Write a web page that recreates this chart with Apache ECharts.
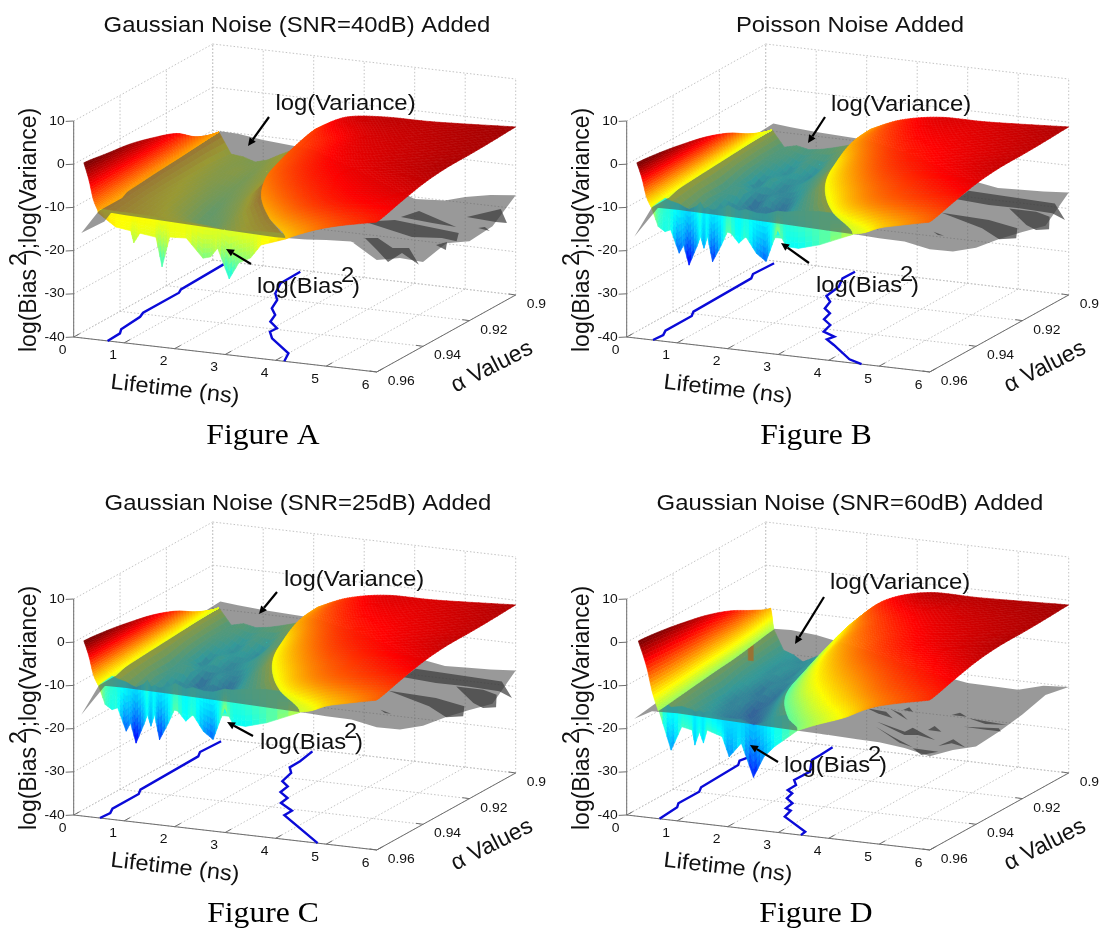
<!DOCTYPE html>
<html>
<head>
<meta charset="utf-8">
<style>html,body{margin:0;padding:0;background:#fff}#c{width:1100px;height:931px;filter:blur(0.4px)}</style>
<script src="https://cdn.jsdelivr.net/npm/echarts@6/dist/echarts.min.js"></script>
</head>
<body>
<div id="c"></div>
<script>
// ---------- tick labels and text ----------
const lifetimeTicks = [0,1,2,3,4,5,6];
const alphaTicks = [0.9,0.92,0.94,0.96];
const alphaTickLabels = ['0.9','0.92','0.94','0.96'];
const valueTicks = [-40,-30,-20,-10,0,10];
const panelTitles = ['Gaussian Noise (SNR=40dB) Added','Poisson Noise Added','Gaussian Noise (SNR=25dB) Added','Gaussian Noise (SNR=60dB) Added'];
const panelCaptions = ['Figure A','Figure B','Figure C','Figure D'];
const surfaceAlphas = [0.96,0.95,0.94,0.93,0.92,0.91,0.90];

// ---------- bias surface, left wing (lifetime, value) per alpha row ----------
const leftWingX_ABC = [[.2,.3,.39,.48],[.2,.28,.35,.42],[.2,.26,.31,.36],[.2,.24,.27,.3],[.2,.21,.23,.24],[.15,.16,.17,.18],[.125,.125,.125,.125]];
const leftWingZ_A = [[.6,-3.2,-7.7,-10.1],[-.2,-3.6,-7.6,-10.1],[-1,-4.2,-7.8,-10.1],[-2.5,-5.2,-8.2,-10.1],[-4.5,-6.5,-8.8,-10.2],[-8.3,-9,-9.7,-10.2],[-10.2,-10.2,-10.2,-10.2]];
const leftWingZ_BC = [[.6,-2.8,-7,-9.2],[0,-3.2,-7,-9.2],[-1,-3.8,-7.1,-9.2],[-2.3,-4.8,-7.5,-9.3],[-4.4,-6,-8,-9.4],[-7.6,-8.2,-9,-9.5],[-9.7,-9.7,-9.7,-9.7]];
const leftWingX_D = [[.23,.39,.51,.625],[.23,.36,.47,.55],[.23,.33,.41,.47],[.23,.29,.35,.39],[.23,.27,.3,.32],[.2,.21,.225,.24],[.1,.125,.14,.16]];
const leftWingZ_D = [[.6,-5,-11,-15],[0,-5.5,-11,-15],[-1,-6,-11,-15],[-2.3,-6.8,-11.2,-15],[-4.3,-8,-11.5,-15],[-7.2,-9.5,-12,-14.8],[-9.8,-11.5,-13,-14.6]];

// ---------- bias surface, right wing ----------
const rightWingX_A = [[4.2,4.47,4.83,5.28,6],[3.42,3.81,4.32,4.97,6],[2.8,3.28,3.92,4.72,6],[2.44,2.97,3.69,4.58,6],[2.27,2.83,3.58,4.51,6],[2.15,2.73,3.5,4.46,6],[2.04,2.63,3.4,4.4,6]];
const rightWingZ_A = [[-11.6,-10.2,-8.6,-7.1,-5.3],[-10.8,-8.5,-6.5,-5,-3.8],[-9.7,-7.5,-5.5,-4,-2.4],[-8.6,-6.6,-4.6,-3.2,-1.7],[-7.8,-5.9,-3.9,-2.8,-1.6],[-7.1,-5.2,-3.2,-2.4,-1.4],[-6.9,-3.4,-2.3,-2.1,-1.1]];
const rightWingX_BC = [[4.48,4.71,5.01,5.39,6],[3.64,3.99,4.47,5.06,6],[3.03,3.48,4.07,4.81,6],[2.58,3.09,3.78,4.63,6],[2.3,2.86,3.6,4.52,6],[2.15,2.73,3.5,4.46,6],[2.08,2.67,3.45,4.43,6]];
const rightWingZ_BC = [[-10.1,-9.5,-8,-6.9,-5.3],[-9.4,-7.6,-6,-5,-3.8],[-9.4,-7.2,-5.3,-4,-2.4],[-9.1,-6.7,-4.5,-3.2,-1.7],[-8.6,-5.9,-3.8,-2.8,-1.6],[-7.1,-4.8,-3,-2.4,-1.4],[-6.9,-4,-2.3,-2.1,-1.1]];
const rightWingX_D = [[3.38,3.77,4.3,4.95,6],[2.75,3.24,3.89,4.7,6],[2.21,2.78,3.54,4.48,6],[1.83,2.46,3.29,4.33,6],[1.65,2.3,3.17,4.26,6],[1.68,2.33,3.19,4.27,6],[1.71,2.35,3.21,4.28,6]];
const rightWingZ_D = [[-15.9,-14,-11.7,-8.2,-5.3],[-16.9,-13.5,-10.2,-6.8,-3.8],[-17.1,-12.5,-8.7,-5.5,-2.4],[-17.5,-11.5,-7.2,-4.2,-1.7],[-16.9,-10,-6,-3.4,-1.6],[-13.6,-7.8,-4.2,-2.6,-1.4],[-11.1,-5,-2,-1.8,-1.1]];

// ---------- bias surface, noisy valley between the wings ----------
const valleyLeft_ABC = [.48,.42,.36,.3,.24,.18,.125];
const valleyRight_A = [4.2,3.42,2.8,2.44,2.27,2.15,2.04];
const valleyZ_A = [[-10.1,-11.5,-12,-12.5,-13,-13.5,-13,-12.5,-11.6],[-10.1,-12,-13,-14,-15.5,-16.5,-15,-13,-11],[-10.1,-12.5,-13.5,-15.5,-18,-18,-16,-13.5,-10],[-10.1,-13,-14,-16,-18.5,-17,-15.5,-13,-9.5],[-10.2,-13.5,-15,-16.5,-17,-16,-14.5,-12.5,-9],[-10.2,-14,-15.5,-15,-16.5,-15,-14,-12,-8.5],[-10.2,-15,-15.3,-16.2,-15.4,-13.9,-12.5,-11,-8]];
const valleyRight_BC = [4.48,3.64,3.03,2.58,2.3,2.15,2.08];
const valleyZ_BC = [[-9.2,-12,-13,-13,-14,-13,-13,-12,-10.2],[-9.2,-13.5,-14.5,-15.5,-15,-15.5,-14.5,-13,-10],[-9.3,-13,-17,-15,-19,-17,-14.5,-13,-9.8],[-9.3,-14,-13.5,-18,-15,-17.5,-15,-12.5,-9.5],[-9.4,-13,-16.5,-14,-16.5,-15,-14,-12,-9],[-9.5,-13,-14,-16,-14,-16,-13,-12,-8.5],[-9.7,-13.4,-12.7,-13.3,-12.9,-12.2,-11.4,-10.4,-8]];
const valleyLeft_D = [.625,.55,.47,.39,.32,.24,.16];
const valleyRight_D = [3.38,2.75,2.21,1.83,1.65,1.68,1.71];
const valleyZ_D = [[-15,-17,-18,-18,-18.5,-18,-18,-17,-15.9],[-15,-18,-20,-21,-23,-22,-21,-19,-16.9],[-15,-19,-21,-23,-22,-25,-22,-20,-17.1],[-15,-20,-22,-21,-25,-23,-22,-20,-17.5],[-15,-19,-20,-23,-21,-23,-21,-19,-16.9],[-14.8,-19,-21,-20,-22,-20,-19,-17,-13.6],[-14.6,-19.2,-20,-21.4,-20.2,-19.1,-17.4,-14.8,-11]];
// isolated peak seen through the sheet in figure D: lifetime, alpha, low value, high value
const valleyPeak_D = [1.08,.93,-11.7,-7.7];

// ---------- bias surface, spiky front edge ----------
const fringeX_A = [.48,.83,1.13,1.19,1.31,1.63,1.75,1.9,2.23,2.56,2.71,2.85,3.08,3.27,3.5,3.71,4.21];
const fringeZ_A = [-10.6,-13.4,-13.9,-16.6,-14.2,-14.7,-21.4,-14.3,-14.1,-18.3,-17.8,-15.6,-22.4,-18.4,-17,-13.7,-11.6];
const fringeTop_A = [-13.2,-13.4,-13.4,-13.5,-13.5,-13.6,-14,-14,-14,-14.2,-14.4,-14.6,-14.8,-14.6,-14.4,-14.2,-14];
const fringeX_BC = [.485,.625,.76,.87,1.04,1.125,1.235,1.39,1.46,1.53,1.6,1.7,1.875,2.01,2.22,2.36,2.57,2.76,2.88,2.99,3.16,3.4,3.82,4.48];
const fringeZ_BC = [-9.2,-13.6,-14.6,-14,-19.2,-17.2,-21.7,-17.2,-14.8,-17.4,-14.6,-20.3,-16.2,-12.5,-15.3,-13.6,-17.2,-18.8,-14.8,-11.2,-14.8,-14.9,-13.5,-10.2];
const fringeTop_BC = [-12,-13,-14,-14.5,-15,-15.5,-16,-15,-14,-15.5,-15,-15.5,-15,-14,-15,-14.5,-15,-15,-14.5,-14,-14,-13.5,-13,-13];
const fringeX_D = [.64,.88,1.09,1.3,1.35,1.44,1.52,1.59,1.89,2.03,2.27,2.51,2.72,2.93,3.38];
const fringeZ_D = [-15,-23.8,-18.1,-18.6,-22,-18.8,-21.3,-18.2,-19.3,-23.8,-20.3,-27.9,-22.8,-20.2,-15.9];
const fringeTop_D = [-18,-20,-19.5,-20,-20.5,-20,-20.5,-20,-21,-21,-21,-22,-21,-19.5,-18];
const fringeAlpha = {A:.95, BC:.94, D:.943};

// ---------- variance surface (grey) ----------
const sheetX = [.15,.5,1,2,3,4,4.6,5,5.5,6];
const sheetZ_A = [[-15.7,-10.1,-10.4,-10.8,-11.2,-11.5,-11.2,-10.8,-10.5,-14.1],[-16,-10.1,-10.4,-10.8,-11.2,-13,-13,-14,-15.5,-16.6],[-12,-10.1,-10.5,-10.9,-11.3,-14,-17.5,-15,-20,-20.5],[-10.5,-10.1,-10.5,-11,-11.8,-16,-15,-19.5,-16,-19.1],[-10.3,-10.1,-10.6,-11,-12.5,-18,-20,-17,-21.5,-21.6],[-10.1,-10.1,-10.7,-11.2,-14,-19,-18,-21,-17.5,-21.1],[-10,-10.1,-10.9,-11.8,-16,-20.5,-20,-18.7,-17.5,-16.9]];
const sheetZ_BC = [[-16.6,-9.3,-9.2,-9.4,-9.7,-10,-10.2,-10.4,-10.5,-11.6],[-13,-9.2,-9.2,-9.4,-9.7,-11,-11.5,-12,-12.5,-15.1],[-11,-9.1,-9.2,-9.4,-9.8,-12,-12,-12.5,-13,-17.2],[-9.5,-9,-9.2,-9.4,-10,-13.5,-18,-18,-18.5,-18.1],[-9,-9,-9.1,-9.4,-10.5,-15,-14.5,-15,-15.5,-19.5],[-8.6,-8.8,-9,-9.4,-11,-16,-19.5,-20,-20.5,-21],[-8.2,-8.6,-9,-9.5,-12,-16,-17.1,-16.9,-16.7,-16.3]];
const sheetZ_D = [[-17.5,-15.3,-15.1,-15.5,-15.8,-16.1,-16.3,-16.4,-17.1,-18.3],[-16.6,-15.2,-15.1,-15.4,-15.8,-16.5,-17,-17.5,-18.5,-19.8],[-15,-15,-15,-15.3,-16,-17,-18,-19,-16.5,-22],[-14.7,-14.8,-15,-15.2,-16.5,-18,-21,-18,-20.5,-21.5],[-14.5,-14.6,-14.9,-15.5,-17.5,-19,-19,-21,-19,-20.5],[-14.5,-14.4,-14.8,-16,-18.5,-20.5,-21,-20.5,-20,-19],[-14.5,-14.3,-14.8,-17,-20,-21.9,-22,-22.1,-20.5,-20.1]];

// dark folds of the grey sheet: [lifetime, alpha] outlines at value foldValue
const foldValue = -20;
const folds_A = [
 [[3.92,.9198],[4.36,.9164],[5.79,.92],[6,.9255],[5.66,.9245],[5.14,.926]],
 [[4.37,.914],[4.49,.9088],[5.57,.9163],[5.06,.9155]],
 [[5.45,.9091],[5.77,.9014],[6.28,.9099],[6.07,.9101]],
 [[4.4,.9302],[4.61,.9292],[5.15,.9346],[5.42,.9334],[6.08,.9435],[5.45,.9371],[5.49,.944],[4.95,.937]],
 [[5.77,.9294],[6.08,.9319],[5.86,.9266]],
 [[5.96,.9153],[6.04,.9142],[6.24,.9164]]
];
const folds_BC = [
 [[3.89,.9023],[3.83,.8959],[5.62,.8977],[6.28,.9077],[5.87,.9043],[5.18,.9035],[4.59,.9037]],
 [[5.02,.9043],[5.56,.9044],[5.93,.9067],[6.29,.9148],[6.1,.9163],[5.79,.9137]],
 [[4.04,.9121],[5.03,.9133],[5.74,.9165],[6.02,.9231],[5.77,.925],[5.16,.9191]],
 [[4.47,.925],[4.76,.9268],[4.64,.9268]]
];
const folds_D = [
 [[3.34,.929],[3.75,.9298],[4.05,.9335],[3.66,.9315]],
 [[3.76,.9279],[4.04,.9297],[4.35,.9335],[4.07,.931]],
 [[3.98,.9275],[4,.9252],[4.19,.9278]],
 [[3.9,.9369],[4.65,.9413],[4.66,.9381],[5.39,.9444],[4.96,.9424],[4.74,.9434]],
 [[4.98,.9385],[4.97,.9354],[5.25,.9386]],
 [[4.03,.9403],[4.6,.9454],[5.24,.9508],[4.89,.9488]],
 [[5.27,.9514],[5.79,.9517],[5.61,.9551]],
 [[5.62,.948],[5.67,.9426],[6.1,.9469],[5.76,.9453]],
 [[4.92,.927],[4.99,.9249],[5.22,.927]],
 [[5.3,.9279],[6.13,.9293],[5.74,.9303]],
 [[5.47,.9337],[6.09,.9321],[6.22,.9341],[5.85,.934]]
];

// ---------- blue floor curves: lifetime at each alpha ----------
const curve1Alpha_A = [.96,.9542,.9515,.942,.9392,.9236,.9213,.9018];
const curve1Life_A = [.67,.65,.55,.49,.42,.416,.348,.306];
const curve2Alpha_A = [.96,.9545,.9461,.942,.9392,.9355,.9308,.9268,.921,.9168,.91,.901];
const curve2Life_A = [4.17,4,3.29,3.06,3.07,2.77,2.65,2.4,2.24,2.01,1.8,1.78];
const curve1Alpha_BC = [.96,.956,.953,.9416,.9387,.9129,.91,.9015];
const curve1Life_BC = [.52,.54,.446,.444,.344,.306,.207,.235];
const curve2Alpha_B = [.96,.9578,.9497,.9466,.9443,.9419,.9371,.9339,.9296,.9268,.9221,.9187,.9118,.9061,.9009];
const curve2Life_B = [4.65,4.31,3.63,3.35,3.39,3.07,2.98,2.71,2.63,2.4,2.29,2.06,1.99,1.8,1.81];
const curve2Alpha_C = [.96,.9445,.941,.9368,.9331,.9298,.9256,.9227,.9167,.9132,.9085,.9012];
const curve2Life_C = [4.83,3.46,3.45,3.04,3,2.71,2.66,2.42,2.32,2.13,2.12,2.03];
const curve1Alpha_D = [.96,.9513,.9486,.9396,.9366,.9195,.9166,.9132,.9018];
const curve1Life_D = [.65,.6,.5,.5,.4,.35,.244,.3,.2];
const curve2Alpha_D = [.96,.9575,.9493,.945,.9438,.9401,.9373,.9337,.9319,.9281,.925,.9184,.9108,.9069,.901];
const curve2Life_D = [3.45,3.42,2.64,2.56,2.41,2.37,2.13,2.07,1.9,1.89,1.71,1.72,1.41,1.4,1.37];

// ---------- panels ----------
const sets = {
  A:{lX:leftWingX_ABC,lZ:leftWingZ_A,rX:rightWingX_A,rZ:rightWingZ_A,vL:valleyLeft_ABC,vR:valleyRight_A,vZ:valleyZ_A,fX:fringeX_A,fZ:fringeZ_A,fT:fringeTop_A,fA:fringeAlpha.A,sZ:sheetZ_A,folds:folds_A,c:[-36,0]},
  BC:{lX:leftWingX_ABC,lZ:leftWingZ_BC,rX:rightWingX_BC,rZ:rightWingZ_BC,vL:valleyLeft_ABC,vR:valleyRight_BC,vZ:valleyZ_BC,fX:fringeX_BC,fZ:fringeZ_BC,fT:fringeTop_BC,fA:fringeAlpha.BC,sZ:sheetZ_BC,folds:folds_BC,c:[-24,0]},
  D:{lX:leftWingX_D,lZ:leftWingZ_D,rX:rightWingX_D,rZ:rightWingZ_D,vL:valleyLeft_D,vR:valleyRight_D,vZ:valleyZ_D,fX:fringeX_D,fZ:fringeZ_D,fT:fringeTop_D,fA:fringeAlpha.D,sZ:sheetZ_D,folds:folds_D,peak:valleyPeak_D,c:[-32,0]}
};
const panels = [
 {set:'A',ox:0,oy:0,tx:297,c1:[curve1Life_A,curve1Alpha_A],c2:[curve2Life_A,curve2Alpha_A],
  v:[275.4,104],b:[257,287],av:[269,117,248,146],ab:[251,264,226,249]},
 {set:'BC',ox:553,oy:0,tx:297,c1:[curve1Life_BC,curve1Alpha_BC],c2:[curve2Life_B,curve2Alpha_B],
  v:[278,105],b:[263,286],av:[272,117,255,143],ab:[256,263,228,243]},
 {set:'BC',ox:0,oy:478,tx:298,c1:[curve1Life_BC,curve1Alpha_BC],c2:[curve2Life_C,curve2Alpha_C],
  v:[284,102],b:[260,265],av:[277,114,259,136],ab:[253,258,227,244]},
 {set:'D',ox:553,oy:478,tx:297,c1:[curve1Life_D,curve1Alpha_D],c2:[curve2Life_D,curve2Alpha_D],
  v:[277,105],b:[231,288],av:[271,119,242,166],ab:[225,284,197,267]}
];

// ---------- view projection (oblique view used by every panel) ----------
const VIEW = {x0:73.7,y0:337,ux:50.5,uy:5.83,fx:139,fy:-77,zs:4.32};
function view(x,a,z){
  const f=(0.96-a)/0.06;
  return [VIEW.x0+VIEW.ux*x+VIEW.fx*f, VIEW.y0+VIEW.uy*x+VIEW.fy*f-(z+40)*VIEW.zs];
}
const JET=[[0,0,0,.5],[.125,0,0,1],[.375,0,1,1],[.625,1,1,0],[.875,1,0,0],[1,.5,0,0]];
function jet(z,c){
  let t=(z-c[0])/(c[1]-c[0]); t=Math.max(0,Math.min(1,t));
  for(let i=0;i<JET.length-1;i++){
    const a=JET[i],b=JET[i+1];
    if(t<=b[0]){const u=(t-a[0])/(b[0]-a[0]);
      return 'rgb('+[1,2,3].map(k=>Math.round(255*(a[k]+(b[k]-a[k])*u))).join(',')+')';}
  }
  return 'rgb(128,0,0)';
}
function cr(arr,t){
  const n=arr.length;const i=Math.min(Math.floor(t),n-2);const u=t-i;
  const p0=arr[Math.max(i-1,0)],p1=arr[i],p2=arr[i+1],p3=arr[Math.min(i+2,n-1)];
  return .5*(2*p1+(-p0+p2)*u+(2*p0-5*p1+4*p2-p3)*u*u+(-p0+3*p1-3*p2+p3)*u*u*u);
}
function lin(arr,t){const i=Math.min(Math.floor(t),arr.length-2);const u=t-i;return arr[i]+(arr[i+1]-arr[i])*u;}

const FONT='"Liberation Sans",Arial,sans-serif';
function renderPanel(pIndex,api){
  const p=panels[pIndex], d=sets[p.set];
  const P=(x,a,z)=>api.coord(view(x,a,z));
  const V=(u,v)=>api.coord([u,v]);
  const ch=[];
  const seg=(a,b,stroke,w,dash)=>ch.push({type:'line',silent:true,shape:{x1:a[0],y1:a[1],x2:b[0],y2:b[1]},style:{stroke,lineWidth:w,lineDash:dash||null}});
  const text=(s,u,v,o)=>{const q=V(u,v);ch.push({type:'text',silent:true,x:q[0],y:q[1],rotation:o.rot||0,scaleX:o.sx||1,
     style:{text:s,fontFamily:o.ff||FONT,fontSize:o.size,fill:o.fill||'#111',align:o.align||'left',verticalAlign:'middle'}});};

  // dotted walls and floor
  const G='#c4c4c4',D=[1.5,2];
  valueTicks.forEach(z=>{seg(P(0,.9,z),P(6,.9,z),G,1,D);seg(P(0,.96,z),P(0,.9,z),G,1,D);});
  lifetimeTicks.forEach(x=>{seg(P(x,.9,-40),P(x,.9,10),G,1,D);seg(P(x,.96,-40),P(x,.9,-40),G,1,D);});
  alphaTicks.forEach(a=>{seg(P(0,a,-40),P(0,a,10),G,1,D);seg(P(0,a,-40),P(6,a,-40),G,1,D);});
  // solid axes
  const S='#6e6e6e';
  seg(P(0,.96,-40),P(0,.96,10),S,1);
  seg(P(0,.96,-40),P(6,.96,-40),S,1);
  seg(P(6,.96,-40),P(6,.9,-40),S,1);
  valueTicks.forEach(z=>{const q=view(0,.96,z);seg(V(q[0],q[1]),V(q[0]-8,q[1]+.4),S,1);
    text(String(z),q[0]-9,q[1],{size:13,align:'right',sx:1.07});});
  lifetimeTicks.forEach(x=>{const q=view(x,.96,-40);seg(V(q[0],q[1]),V(q[0]+6,q[1]-3.3),S,1);
    text(String(x),q[0]-11,q[1]+13,{size:13,align:'center',sx:1.07});});
  alphaTicks.forEach((a,i)=>{const q=view(6,a,-40);seg(V(q[0],q[1]),V(q[0]-7,q[1]-1),S,1);
    text(alphaTickLabels[i],q[0]+11,q[1]+9.5,{size:13,sx:1.07});});

  // floor curves
  [p.c1,p.c2].forEach(c=>{
    ch.push({type:'polyline',silent:true,shape:{points:c[0].map((x,i)=>P(x,c[1][i],-40))},style:{fill:null,stroke:'#0a0ad8',lineWidth:2.4}});
  });

  const quad=(pts,z)=>{const col=jet(z,d.c);ch.push({type:'polygon',silent:true,shape:{points:pts},style:{fill:col,stroke:col,lineWidth:.6}});};
  function mesh(evalX,evalZ,nr,nc,sr,sc){
    const R=(nr-1)*sr,C=(nc-1)*sc,node=[],zz=[];
    for(let r=0;r<=R;r++){node[r]=[];zz[r]=[];
      for(let c=0;c<=C;c++){const tr=r/sr,tc=c/sc;const x=evalX(tr,tc),z=evalZ(tr,tc);
        zz[r][c]=z;node[r][c]=P(x,surfaceAlphas[0]-0.01*tr,z);}}
    for(let r=R-1;r>=0;r--)for(let c=0;c<C;c++){
      quad([node[r][c],node[r][c+1],node[r+1][c+1],node[r+1][c]],(zz[r][c]+zz[r][c+1]+zz[r+1][c+1]+zz[r+1][c])/4);
    }
  }
  const smoothEval=M=>(tr,tc)=>cr(M.map(row=>cr(row,tc)),tr);
  const bilinEval=M=>(tr,tc)=>lin(M.map(row=>lin(row,tc)),tr);

  // valley (seen through the grey sheet)
  const vX=(tr,tc)=>{const l=lin(d.vL,tr),rr=lin(d.vR,tr);return l+(rr-l)*tc/8;};
  mesh(vX,bilinEval(d.vZ),7,9,4,4);
  if(d.peak){const k=d.peak;quad([P(k[0]-.05,k[1],k[2]),P(k[0]+.05,k[1],k[2]),P(k[0]+.05,k[1],k[3]),P(k[0]-.05,k[1],k[3])],-9);}

  // spiky front of the bias surface: spikes drop straight down the picture
  const subV=7, subH=3, drift=VIEW.fx/VIEW.ux;
  const fAt=(tc,u)=>{const a=d.fA+(0.96-d.fA)*u,f=(0.96-a)/0.06,top=lin(d.fT,tc),bot=lin(d.fZ,tc);
    return P(lin(d.fX,tc)-drift*f,a,top+(bot-top)*u);};
  for(let j=0;j<d.fX.length-1;j++)for(let h=0;h<subH;h++)for(let s=0;s<subV;s++){
    const t0=j+h/subH,t1=j+(h+1)/subH,tm=(t0+t1)/2,u0=s/subV,u1=(s+1)/subV,um=(u0+u1)/2;
    const top=lin(d.fT,tm),bot=lin(d.fZ,tm);
    quad([fAt(t0,u0),fAt(t1,u0),fAt(t1,u1),fAt(t0,u1)],top+(bot-top)*Math.pow(um,1.4));
  }

  // grey variance sheet: one fill so that facets do not double blend
  let lit='';
  const tri=(a,b,c)=>{
    const area=(b[0]-a[0])*(c[1]-a[1])-(b[1]-a[1])*(c[0]-a[0]);
    const f=q=>q[0].toFixed(1)+' '+q[1].toFixed(1);
    lit+= area<0 ? 'M'+f(a)+'L'+f(b)+'L'+f(c)+'Z' : 'M'+f(a)+'L'+f(c)+'L'+f(b)+'Z';
  };
  for(let r=0;r<d.sZ.length-1;r++)for(let c=0;c<sheetX.length-1;c++){
    const n=(rr,cc)=>P(sheetX[cc],surfaceAlphas[rr],d.sZ[rr][cc]);
    tri(n(r,c),n(r,c+1),n(r+1,c));
    tri(n(r+1,c+1),n(r+1,c),n(r,c+1));
  }
  ch.push({type:'path',silent:true,shape:{pathData:lit},style:{fill:'rgba(85,85,85,0.6)',stroke:null}});
  d.folds.forEach(f=>ch.push({type:'polygon',silent:true,shape:{points:f.map(q=>P(q[0],q[1],foldValue))},style:{fill:'rgba(55,55,55,0.7)'}}));

  // wings on top
  mesh(smoothEval(d.lX),smoothEval(d.lZ),7,4,7,8);
  mesh(smoothEval(d.rX),smoothEval(d.rZ),7,5,9,14);

  // arrows
  const arrow=q=>{
    const a=V(q[0],q[1]),b=V(q[2],q[3]);
    const dx=b[0]-a[0],dy=b[1]-a[1],L=Math.hypot(dx,dy),ux=dx/L,uy=dy/L;
    const base=[b[0]-ux*8,b[1]-uy*8];
    seg(a,base,'#000',2.2);
    ch.push({type:'polygon',silent:true,shape:{points:[b,[base[0]-uy*3.8,base[1]+ux*3.8],[base[0]+uy*3.8,base[1]-ux*3.8]]},style:{fill:'#000'}});
  };
  arrow(p.av);arrow(p.ab);

  // texts
  text(panelTitles[pIndex],p.tx,26,{size:22,align:'center',sx:1.085});
  text(panelCaptions[pIndex],263,436,{size:29,align:'center',sx:1.09,ff:'"Liberation Serif","Times New Roman",serif',fill:'#000'});
  text('log(Variance)',p.v[0],p.v[1],{size:22,sx:1.085});
  text('log(Bias',p.b[0],p.b[1],{size:22,sx:1.085});
  text('2',p.b[0]+84,p.b[1]-11,{size:22,sx:1.085});
  text(')',p.b[0]+95,p.b[1],{size:22,sx:1.085});
  // rotated axis titles
  text('log(Bias',30,352,{size:23,rot:Math.PI/2});
  text('2',20,266,{size:23,rot:Math.PI/2});
  text(');log(Variance)',30,257,{size:23,rot:Math.PI/2});
  text('Lifetime (ns)',175,390,{size:22,align:'center',sx:1.07,rot:-0.115});
  text('\u03b1 Values',492,367,{size:23,align:'center',rot:0.47});
  return {type:'group',children:ch};
}

const chart=echarts.init(document.getElementById('c'),null,{renderer:'canvas'});
const W=547,H=453;
chart.setOption({
  animation:false,backgroundColor:'#fff',
  grid:panels.map(p=>({left:p.ox,top:p.oy,width:W,height:H,containLabel:false})),
  xAxis:panels.map((p,i)=>({type:'value',gridIndex:i,min:0,max:W,show:false})),
  yAxis:panels.map((p,i)=>({type:'value',gridIndex:i,min:0,max:H,inverse:true,show:false})),
  series:panels.map((p,i)=>({type:'custom',xAxisIndex:i,yAxisIndex:i,coordinateSystem:'cartesian2d',clip:false,silent:true,
    data:[[0,0]],renderItem:(params,api)=>renderPanel(i,api)}))
});
</script>
</body>
</html>
